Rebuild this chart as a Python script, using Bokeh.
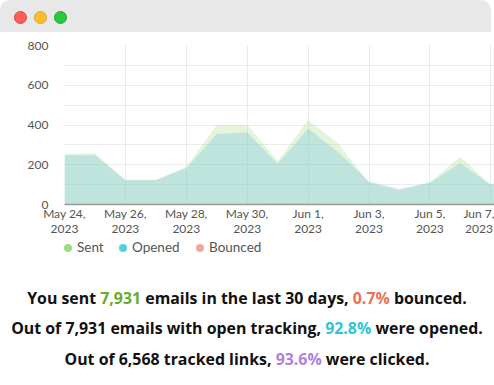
from bokeh.plotting import figure
from bokeh.models import Range1d, FixedTicker, Div
from bokeh.layouts import column
from bokeh.embed import file_html
from bokeh.resources import INLINE

# ---- data ----
days = list(range(16))  # 0 = May 24, 2023
tick_days = [0, 2, 4, 6, 8, 10, 12, 14]
tick_labels = ["May 24,\n2023", "May 26,\n2023", "May 28,\n2023", "May 30,\n2023",
               "Jun 1,\n2023", "Jun 3,\n2023", "Jun 5,\n2023", "Jun 7,\n2023"]
sent = [255, 258, 125, 125, 190, 400, 400, 220, 425, 305, 108, 72, 112, 240, 100, 150]
opened = [248, 248, 122, 122, 183, 355, 362, 205, 383, 262, 116, 78, 110, 207, 100, 140]
bounced = [0, 0, 0, 0, 0, 0, 3, 5, 4, 0, 0, 0, 0, 0, 0, 0]
y_ticks = [0, 200, 400, 600, 800]
y_minor = [100, 300, 500, 700]
series_names = ["Sent", "Opened", "Bounced"]
series_colors = ["#9ddc7f", "#4dd0e0", "#f0a89c"]
area_colors = ["#9ddc7f", "#7ac3e1", "#f0a89c"]

FONT = "Lato"
W = 494

# ---- window title bar (decoration) ----
lights = [("#fe5f57", "#e0443e"), ("#febc2e", "#dea123"), ("#28c840", "#1aab29")]
dots = "".join(
    f'<span style="position:absolute;left:{13.5 + 20 * i}px;top:10.5px;width:13px;height:13px;'
    f'border-radius:50%;background:{f};box-sizing:border-box;border:0.6px solid {b};"></span>'
    for i, (f, b) in enumerate(lights))
bar = Div(text=f'<div style="position:relative;width:{W - 3}px;height:32px;background:#e8e8e8;'
               f'border-radius:10px 10px 0 0;">{dots}</div>', width=W, height=32, margin=0)

# ---- chart ----
px_per_day = 30.45
left = 64
p = figure(width=W, frame_height=159, x_range=Range1d(0, (W - left) / px_per_day),
           y_range=Range1d(0, 800),
           toolbar_location=None, output_backend="svg",
           min_border_left=left, min_border_right=0, min_border_top=13, min_border_bottom=0,
           outline_line_color=None, background_fill_color="white", border_fill_color="white")

p.varea(x=days, y1=0, y2=sent, fill_color=area_colors[0], fill_alpha=0.28)
p.varea(x=days, y1=0, y2=opened, fill_color=area_colors[1], fill_alpha=0.35)
p.varea(x=days, y1=0, y2=bounced, fill_color=area_colors[2], fill_alpha=0.9)

p.xaxis.ticker = FixedTicker(ticks=tick_days)
p.xaxis.major_label_overrides = {d: l for d, l in zip(tick_days, tick_labels)}
p.yaxis.ticker = FixedTicker(ticks=y_ticks, minor_ticks=y_minor)

for ax in (p.xaxis, p.yaxis):
    ax.major_tick_line_color = None
    ax.minor_tick_line_color = None
    ax.major_tick_out = 0
    ax.major_label_text_font = FONT
    ax.major_label_text_font_size = "12px"
    ax.major_label_text_color = "#555555"
p.yaxis.axis_line_color = None
p.yaxis.major_label_standoff = 12
p.xaxis.axis_line_color = "#9a9a9a"
p.xaxis.axis_line_width = 1.5
p.xaxis.major_label_standoff = 1
p.xaxis.major_label_text_line_height = 1.0

p.xgrid.grid_line_color = "#ebebeb"
p.ygrid.grid_line_color = "#ebebeb"
p.ygrid.minor_grid_line_color = "#ebebeb"

# ---- legend row ----
leg_left = [64, 119, 196]
leg_html = "".join(
    f'<span style="position:absolute;left:{x}px;top:0;height:20px;display:flex;align-items:center;'
    f'font-family:{FONT};font-size:13.5px;color:#555;white-space:nowrap;">'
    f'<span style="display:inline-block;width:8px;height:8px;border-radius:50%;background:{c};'
    f'margin-right:5px;"></span>{n}</span>'
    for x, n, c in zip(leg_left, series_names, series_colors))
leg = Div(text=f'<div style="position:relative;width:{W}px;height:20px;">{leg_html}</div>',
          width=W, height=20, margin=0)

# ---- summary text ----
def span(t, c):
    return f'<span style="color:{c}">{t}</span>'

lines = [
    f'You sent {span("7,931", "#6aab2a")} emails in the last 30 days, {span("0.7%", "#e8735a")} bounced.',
    f'Out of 7,931 emails with open tracking, {span("92.8%", "#2ec4d4")} were opened.',
    f'Out of 6,568 tracked links, {span("93.6%", "#b07fe0")} were clicked.',
]
html = ('<div style="width:490px;padding-left:4px;text-align:center;font-family:\'Open Sans\';font-weight:700;'
        'font-size:15.9px;line-height:30.3px;color:#111;padding-top:25px;white-space:nowrap;">'
        + "<br>".join(lines) + "</div>")
txt = Div(text=html, width=W, height=125, margin=0)

layout = column(bar, p, leg, txt, spacing=0)
open("out.html", "w").write(file_html(layout, INLINE))
